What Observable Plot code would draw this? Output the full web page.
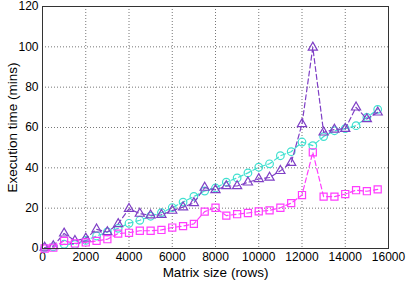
<!DOCTYPE html>
<html><head><meta charset="utf-8">
<script src="https://cdn.jsdelivr.net/npm/d3@7"></script>
<script src="https://cdn.jsdelivr.net/npm/@observablehq/plot@0.6"></script>
<style>body{margin:0;background:#fff;} #chart svg{display:block;}</style>
</head><body><div id="chart"></div>
<script>
const sizes = [100, 500, 1000, 1500, 2000, 2500, 3000, 3500, 4000, 4500, 5000, 5500, 6000, 6500, 7000, 7500,
  8000, 8500, 9000, 9500, 10000, 10500, 11000, 11500, 12000, 12500, 13000, 13500, 14000, 14500, 15000, 15500];
const cyanCircles = [0.3, 0.8, 2.1, 2.0, 4.0, 6.2, 8.2, 10.0, 12.5, 14.0, 16.0, 17.8, 20.3, 23.0, 25.8, 28.5,
  30.0, 32.9, 35.0, 37.5, 40.3, 42.0, 46.0, 48.0, 52.8, 51.0, 55.5, 58.4, 59.4, 60.9, 65.0, 69.0];
const purpleTriangles = [0.5, 1.2, 7.5, 3.8, 5.0, 9.5, 8.2, 12.2, 19.7, 17.3, 16.5, 16.7, 18.8, 20.5, 22.6, 30.2,
  29.0, 31.0, 31.0, 32.8, 34.5, 35.2, 38.5, 42.5, 61.7, 99.7, 57.6, 59.0, 59.4, 70.0, 64.2, 67.5];
const magentaSquares = [0.0, 0.4, 3.8, 2.5, 3.0, 3.8, 4.6, 7.4, 7.8, 8.8, 8.8, 9.2, 10.4, 11.1, 12.2, 18.3,
  20.2, 16.3, 17.0, 17.6, 18.4, 18.9, 20.2, 22.5, 26.5, 47.7, 25.7, 25.7, 27.0, 28.9, 28.4, 29.3];
const xTicks = [0, 2000, 4000, 6000, 8000, 10000, 12000, 14000, 16000];
const yTicks = [0, 20, 40, 60, 80, 100, 120];
const xLabel = "Matrix size (rows)";
const yLabel = "Execution time (mins)";

const seriesDefs = [
  {name: "cyan", values: cyanCircles, color: "#40e0d0", symbol: "circle", r: 3.8},
  {name: "purple", values: purpleTriangles, color: "#7f3fc6", symbol: "triangle", r: 3.4},
  {name: "magenta", values: magentaSquares, color: "#ff3cff", symbol: "square", r: 4.0}
];

const seriesMarks = [];
for (const s of seriesDefs) {
  const rows = sizes.map((x, i) => ({x, y: s.values[i]}));
  seriesMarks.push(Plot.line(rows, {x: "x", y: "y", stroke: s.color, strokeWidth: 1.2, strokeDasharray: "5,3"}));
  seriesMarks.push(Plot.dot(rows, {x: "x", y: "y", stroke: s.color, fill: "none", strokeWidth: 1.2, symbol: s.symbol, r: s.r}));
}

const chart = Plot.plot({
  width: 407, height: 284,
  marginLeft: 42, marginRight: 19, marginTop: 6, marginBottom: 36,
  x: {domain: [0, 16000]},
  y: {domain: [0, 120]},
  style: {fontFamily: "'Liberation Sans', Arial, sans-serif", fontSize: "12px", color: "#000", background: "#fff"},
  marks: [
    Plot.gridX(xTicks, {stroke: "#777", strokeOpacity: 1, strokeDasharray: "1,2"}),
    Plot.gridY(yTicks, {stroke: "#777", strokeOpacity: 1, strokeDasharray: "1,2"}),
    Plot.axisX(xTicks, {tickSize: 0, tickPadding: 4, label: null, fontSize: 12, tickFormat: d3.format("d")}),
    Plot.axisY(yTicks, {tickSize: 0, tickPadding: 4, label: null, fontSize: 12, tickFormat: d3.format("d")}),
    ...seriesMarks,
    Plot.frame({stroke: "#333", strokeWidth: 1}),
    Plot.text([xLabel], {text: d => d, frameAnchor: "bottom", textAnchor: "middle", dy: 28, fontSize: 13.5}),
    Plot.text([yLabel], {text: d => d, frameAnchor: "left", textAnchor: "middle", dx: -30, rotate: -90, fontSize: 13.5})
  ]
});
document.getElementById("chart").appendChild(chart);
</script>
</body></html>
